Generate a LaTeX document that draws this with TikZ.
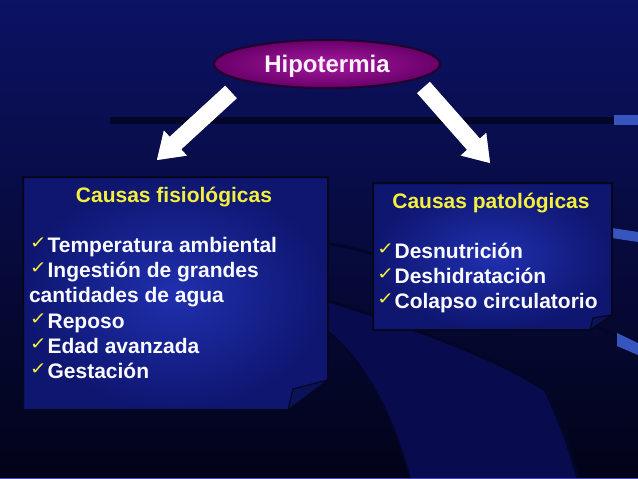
\documentclass[tikz,border=0pt]{standalone}
\usepackage{fontspec}
\setmainfont{Liberation Sans}
\newfontfamily\dejavu{DejaVu Sans}
\usetikzlibrary{calc,shapes.geometric}

\definecolor{bgtop}{RGB}{12,18,100}
\definecolor{bgmid}{RGB}{9,13,80}
\definecolor{bgbot}{RGB}{2,3,24}
\definecolor{banddark}{RGB}{4,6,40}
\definecolor{swoosh}{RGB}{8,12,78}
\definecolor{edgeblue}{RGB}{55,85,190}
\definecolor{purpin}{RGB}{165,25,160}
\definecolor{purpout}{RGB}{105,0,105}
\definecolor{purpline}{RGB}{35,0,45}
\definecolor{boxin}{RGB}{32,48,175}
\definecolor{boxout}{RGB}{14,22,112}
\definecolor{boxline}{RGB}{6,6,30}
\definecolor{ttlyellow}{RGB}{245,240,60}
\definecolor{txtwhite}{RGB}{250,250,255}

\newcommand\ckm{{\color{ttlyellow}\raisebox{3.5pt}{\scalebox{1.2}[1]{\dejavu\fontsize{17}{17}\selectfont ✓}}}\hspace{0.5pt}}

\tikzset{
  txt/.style={inner sep=0pt, outer sep=0pt, text=txtwhite,
    font=\fontsize{21}{25}\selectfont\bfseries, anchor=base west},
  ttl/.style={txt, text=ttlyellow, anchor=base},
  cbox/.style={inner color=boxin, outer color=boxout, draw=boxline, line width=2pt, line join=miter},
  fold/.style={fill=boxout!80!black, draw=boxline, line width=1.2pt, line join=round},
  blockarrow/.style={fill=white},
  arrowshadow/.style={fill=gray!70},
  deco/.style={draw=banddark, line width=3pt},
  hypo/.style={ellipse, minimum width=226pt, minimum height=48pt, inner color=purpin,
    outer color=purpout, draw=purpline, line width=2pt, text=white!94!purpin,
    font=\fontsize{24}{24}\selectfont\bfseries, text height=17pt, text depth=0pt}
}

\begin{document}
\begin{tikzpicture}[x=1pt,y=-1pt]
\useasboundingbox (0,0) rectangle (638,479);
\shade[top color=bgtop, middle color=bgmid, bottom color=bgbot] (0,0) rectangle (638,479);

% background decorations
\fill[swoosh] (326,300) .. controls (420,330) and (500,360) .. (545,390)
  .. controls (560,420) and (570,450) .. (578,479) -- (410,479)
  .. controls (395,420) and (365,360) .. (326,330) -- cycle;
\draw[deco] (326,300) .. controls (420,330) and (500,360) .. (545,390)
  .. controls (560,420) and (570,450) .. (578,479);
\draw[deco, line width=2pt] (326,330) .. controls (365,360) and (395,420) .. (410,479);
\fill[banddark] (110,117) rectangle (614,124);
\fill[edgeblue] (614,115) rectangle (638,125);
\draw[deco] (325,243) .. controls (345,246) and (360,250) .. (372,254);
\draw[deco] (590,323) .. controls (605,330) and (620,338) .. (638,348);
\fill[edgeblue] (612,228) -- (638,232) -- (638,242) -- (612,238) -- cycle;
\fill[edgeblue] (617,333) -- (638,343) -- (638,355) -- (617,346) -- cycle;
\fill[gray!55!blue] (0,477.5) rectangle (638,479);

% central ellipse
\node[hypo] (hyp) at (327,64) {Hipotermia};

% arrows
\coordinate (la-s) at (231,92);
\coordinate (la-e) at (157,160);
\coordinate (ra-s) at (423.5,87.5);
\coordinate (ra-e) at (490,163);
\coordinate (la-h) at ($(la-e)!25pt!(la-s)$);
\coordinate (ra-h) at ($(ra-e)!25pt!(ra-s)$);
\foreach \a in {la, ra}{
  \fill[arrowshadow, shift={(1.8,1.2)}] ($(\a-s)!8.5pt!90:(\a-e)$) -- ($(\a-h)!8.5pt!-90:(\a-s)$)
    -- ($(\a-h)!17pt!-90:(\a-s)$) -- (\a-e) -- ($(\a-h)!17pt!90:(\a-s)$)
    -- ($(\a-h)!8.5pt!90:(\a-s)$) -- ($(\a-s)!8.5pt!-90:(\a-e)$) -- cycle;
  \fill[blockarrow] ($(\a-s)!8.5pt!90:(\a-e)$) -- ($(\a-h)!8.5pt!-90:(\a-s)$)
    -- ($(\a-h)!17pt!-90:(\a-s)$) -- (\a-e) -- ($(\a-h)!17pt!90:(\a-s)$)
    -- ($(\a-h)!8.5pt!90:(\a-s)$) -- ($(\a-s)!8.5pt!-90:(\a-e)$) -- cycle;
}

% left box
\path[cbox] (23,177) -- (328,177) -- (328,380) -- (288,410) -- (23,410) -- cycle;
\path[fold] (288,410) -- (293,389) -- (328,380) -- cycle;
\node[ttl] (lt) at (174,202) {Causas fisiológicas};
\node[txt] (l1) at (30,252) {\ckm Temperatura ambiental};
\node[txt] (l2) at (30,277) {\ckm Ingestión de grandes};
\node[txt] (l3) at (29,302) {cantidades de agua};
\node[txt] (l4) at (30,328) {\ckm Reposo};
\node[txt] (l5) at (30,353) {\ckm Edad avanzada};
\node[txt] (l6) at (30,378) {\ckm Gestación};

% right box
\path[cbox] (373,183) -- (612,183) -- (612,315) -- (590,330) -- (373,330) -- cycle;
\path[fold] (590,330) -- (593,318) -- (612,315) -- cycle;
\node[ttl] (rt) at (491,208) {Causas patológicas};
\node[txt] (r1) at (377,258) {\ckm Desnutrición};
\node[txt] (r2) at (377,283) {\ckm Deshidratación};
\node[txt] (r3) at (377,308) {\ckm Colapso circulatorio};
\end{tikzpicture}
\end{document}
